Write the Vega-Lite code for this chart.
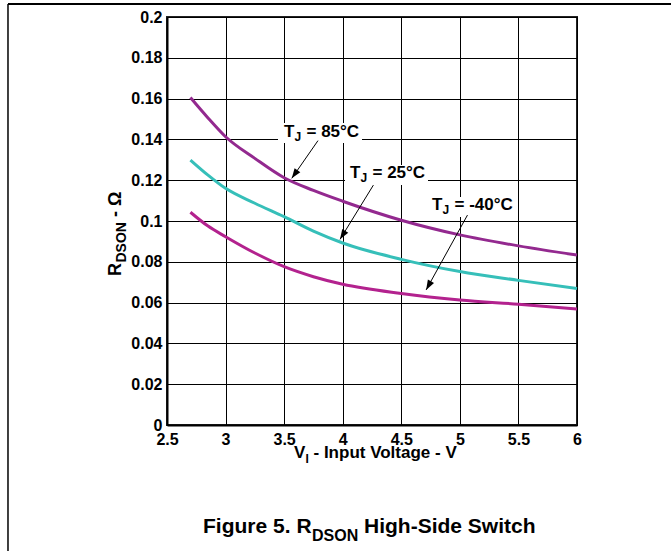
{
  "$schema": "https://vega.github.io/schema/vega-lite/v6.json",
  "width": 410,
  "height": 408,
  "autosize": "none",
  "padding": {"left": 167, "top": 17, "right": 94, "bottom": 126},
  "background": "white",
  "config": {
    "view": {"stroke": "#222", "strokeWidth": 2},
    "axis": {
      "grid": true, "gridColor": "#000", "gridOpacity": 1, "gridWidth": 1,
      "domainColor": "#000", "domainWidth": 2, "ticks": false, "tickSize": 0,
      "labelFont": "Liberation Sans", "labelFontWeight": "bold", "labelFontSize": 16,
      "labelColor": "#000", "title": null
    },
    "text": {"font": "Liberation Sans", "fontWeight": "bold", "color": "#000"}
  },
  "data": {"values": [{}]},
  "layer": [
    {
      "mark": {"type": "rule", "stroke": "#000", "strokeWidth": 2},
      "encoding": {
        "x": {"datum": 1.1426, "type": "quantitative"},
        "x2": {"datum": 7.5},
        "y": {"datum": 0.20637, "type": "quantitative"}
      }
    },
    {
      "mark": {"type": "rule", "stroke": "#000", "strokeWidth": 1.5},
      "encoding": {
        "x": {"datum": 1.1426, "type": "quantitative"},
        "y": {"datum": 0.20637, "type": "quantitative"},
        "y2": {"datum": -0.09}
      }
    },
    {
      "data": {"values": [
        {"v": 2.7, "r": 0.1605, "t": "85°C"}, {"v": 2.85, "r": 0.1505, "t": "85°C"}, {"v": 3.0, "r": 0.1413, "t": "85°C"},
        {"v": 3.25, "r": 0.1307, "t": "85°C"}, {"v": 3.5, "r": 0.1212, "t": "85°C"}, {"v": 3.75, "r": 0.1150, "t": "85°C"},
        {"v": 4.0, "r": 0.1097, "t": "85°C"}, {"v": 4.5, "r": 0.1004, "t": "85°C"}, {"v": 5.0, "r": 0.0932, "t": "85°C"},
        {"v": 5.5, "r": 0.0878, "t": "85°C"}, {"v": 6.0, "r": 0.0833, "t": "85°C"},
        {"v": 2.7, "r": 0.1299, "t": "25°C"}, {"v": 2.85, "r": 0.1225, "t": "25°C"}, {"v": 3.0, "r": 0.1160, "t": "25°C"},
        {"v": 3.25, "r": 0.1087, "t": "25°C"}, {"v": 3.5, "r": 0.1021, "t": "25°C"}, {"v": 3.75, "r": 0.0950, "t": "25°C"},
        {"v": 4.0, "r": 0.0892, "t": "25°C"}, {"v": 4.5, "r": 0.0812, "t": "25°C"}, {"v": 5.0, "r": 0.0752, "t": "25°C"},
        {"v": 5.5, "r": 0.0709, "t": "25°C"}, {"v": 6.0, "r": 0.0669, "t": "25°C"},
        {"v": 2.7, "r": 0.1043, "t": "-40°C"}, {"v": 2.85, "r": 0.0975, "t": "-40°C"}, {"v": 3.0, "r": 0.0923, "t": "-40°C"},
        {"v": 3.25, "r": 0.0843, "t": "-40°C"}, {"v": 3.5, "r": 0.0776, "t": "-40°C"}, {"v": 3.75, "r": 0.0727, "t": "-40°C"},
        {"v": 4.0, "r": 0.0690, "t": "-40°C"}, {"v": 4.5, "r": 0.0645, "t": "-40°C"}, {"v": 5.0, "r": 0.0613, "t": "-40°C"},
        {"v": 5.5, "r": 0.0592, "t": "-40°C"}, {"v": 6.0, "r": 0.0569, "t": "-40°C"}
      ]},
      "mark": {"type": "line", "strokeWidth": 3, "interpolate": "monotone"},
      "encoding": {
        "x": {"field": "v", "type": "quantitative",
              "scale": {"domain": [2.5, 6], "nice": false, "zero": false},
              "axis": {"values": [2.5, 3, 3.5, 4, 4.5, 5, 5.5, 6], "format": "~g", "labelPadding": 6, "labelFlush": false}},
        "y": {"field": "r", "type": "quantitative",
              "scale": {"domain": [0, 0.2], "nice": false, "zero": false},
              "axis": {"values": [0, 0.02, 0.04, 0.06, 0.08, 0.1, 0.12, 0.14, 0.16, 0.18, 0.2], "format": "~g", "labelPadding": 5, "labelFlush": false}},
        "color": {"field": "t", "type": "nominal",
                  "scale": {"domain": ["85°C", "25°C", "-40°C"], "range": ["#93298F", "#36BFB9", "#B3228E"]},
                  "legend": null}
      }
    },
    {
      "mark": {"type": "rect", "fill": "white"},
      "encoding": {"x": {"datum": 3.4476, "type": "quantitative"}, "x2": {"datum": 4.1647},
                   "y": {"datum": 0.148, "type": "quantitative"}, "y2": {"datum": 0.1382}}
    },
    {
      "mark": {"type": "rect", "fill": "white"},
      "encoding": {"x": {"datum": 4.0196, "type": "quantitative"}, "x2": {"datum": 4.728},
                   "y": {"datum": 0.1275, "type": "quantitative"}, "y2": {"datum": 0.1176}}
    },
    {
      "mark": {"type": "rect", "fill": "white"},
      "encoding": {"x": {"datum": 4.7196, "type": "quantitative"}, "x2": {"datum": 5.4794},
                   "y": {"datum": 0.1118, "type": "quantitative"}, "y2": {"datum": 0.102}}
    },
    {
      "mark": {"type": "text", "text": "T", "align": "left", "baseline": "alphabetic", "fontSize": 17},
      "encoding": {"x": {"datum": 3.4988, "type": "quantitative"}, "y": {"datum": 0.1413, "type": "quantitative"}}
    },
    {
      "mark": {"type": "text", "text": "J", "align": "left", "baseline": "alphabetic", "fontSize": 12, "dx": 10.5, "dy": 4},
      "encoding": {"x": {"datum": 3.4988, "type": "quantitative"}, "y": {"datum": 0.1413, "type": "quantitative"}}
    },
    {
      "mark": {"type": "text", "text": "= 85°C", "align": "left", "baseline": "alphabetic", "fontSize": 17, "dx": 22.5},
      "encoding": {"x": {"datum": 3.4988, "type": "quantitative"}, "y": {"datum": 0.1413, "type": "quantitative"}}
    },
    {
      "mark": {"type": "text", "text": "T", "align": "left", "baseline": "alphabetic", "fontSize": 17},
      "encoding": {"x": {"datum": 4.0623, "type": "quantitative"}, "y": {"datum": 0.1209, "type": "quantitative"}}
    },
    {
      "mark": {"type": "text", "text": "J", "align": "left", "baseline": "alphabetic", "fontSize": 12, "dx": 10.5, "dy": 4},
      "encoding": {"x": {"datum": 4.0623, "type": "quantitative"}, "y": {"datum": 0.1209, "type": "quantitative"}}
    },
    {
      "mark": {"type": "text", "text": "= 25°C", "align": "left", "baseline": "alphabetic", "fontSize": 17, "dx": 22.5},
      "encoding": {"x": {"datum": 4.0623, "type": "quantitative"}, "y": {"datum": 0.1209, "type": "quantitative"}}
    },
    {
      "mark": {"type": "text", "text": "T", "align": "left", "baseline": "alphabetic", "fontSize": 17},
      "encoding": {"x": {"datum": 4.762, "type": "quantitative"}, "y": {"datum": 0.1054, "type": "quantitative"}}
    },
    {
      "mark": {"type": "text", "text": "J", "align": "left", "baseline": "alphabetic", "fontSize": 12, "dx": 10.5, "dy": 4},
      "encoding": {"x": {"datum": 4.762, "type": "quantitative"}, "y": {"datum": 0.1054, "type": "quantitative"}}
    },
    {
      "mark": {"type": "text", "text": "= -40°C", "align": "left", "baseline": "alphabetic", "fontSize": 17, "dx": 22.5},
      "encoding": {"x": {"datum": 4.762, "type": "quantitative"}, "y": {"datum": 0.1054, "type": "quantitative"}}
    },
    {
      "mark": {"type": "rule", "stroke": "#000", "strokeWidth": 1},
      "encoding": {"x": {"datum": 3.789, "type": "quantitative"}, "x2": {"datum": 3.565},
                   "y": {"datum": 0.1394, "type": "quantitative"}, "y2": {"datum": 0.1209}}
    },
    {
      "mark": {"type": "rule", "stroke": "#000", "strokeWidth": 1},
      "encoding": {"x": {"datum": 4.262, "type": "quantitative"}, "x2": {"datum": 3.977},
                   "y": {"datum": 0.1176, "type": "quantitative"}, "y2": {"datum": 0.091}}
    },
    {
      "mark": {"type": "rule", "stroke": "#000", "strokeWidth": 1},
      "encoding": {"x": {"datum": 5.065, "type": "quantitative"}, "x2": {"datum": 4.712},
                   "y": {"datum": 0.1029, "type": "quantitative"}, "y2": {"datum": 0.0662}}
    },
    {
      "mark": {"type": "point", "shape": "M0,0L-0.7,2L0.7,2Z", "size": 100, "filled": true, "color": "#000", "opacity": 1, "angle": 214.8},
      "encoding": {"x": {"datum": 3.565, "type": "quantitative"}, "y": {"datum": 0.1209, "type": "quantitative"}}
    },
    {
      "mark": {"type": "point", "shape": "M0,0L-0.7,2L0.7,2Z", "size": 100, "filled": true, "color": "#000", "opacity": 1, "angle": 211.6},
      "encoding": {"x": {"datum": 3.977, "type": "quantitative"}, "y": {"datum": 0.091, "type": "quantitative"}}
    },
    {
      "mark": {"type": "point", "shape": "M0,0L-0.7,2L0.7,2Z", "size": 100, "filled": true, "color": "#000", "opacity": 1, "angle": 208.9},
      "encoding": {"x": {"datum": 4.712, "type": "quantitative"}, "y": {"datum": 0.0662, "type": "quantitative"}}
    },
    {
      "mark": {"type": "text", "text": "V", "align": "left", "baseline": "alphabetic", "fontSize": 17, "dx": -78, "dy": 33},
      "encoding": {"x": {"datum": 4.25, "type": "quantitative"}, "y": {"datum": 0, "type": "quantitative"}}
    },
    {
      "mark": {"type": "text", "text": "I", "align": "left", "baseline": "alphabetic", "fontSize": 12, "dx": -66.5, "dy": 38},
      "encoding": {"x": {"datum": 4.25, "type": "quantitative"}, "y": {"datum": 0, "type": "quantitative"}}
    },
    {
      "mark": {"type": "text", "text": "- Input Voltage - V", "align": "left", "baseline": "alphabetic", "fontSize": 17, "dx": -58.5, "dy": 33},
      "encoding": {"x": {"datum": 4.25, "type": "quantitative"}, "y": {"datum": 0, "type": "quantitative"}}
    },
    {
      "mark": {"type": "text", "text": "R", "align": "left", "baseline": "alphabetic", "fontSize": 18, "angle": 270, "dx": -55, "dy": -46},
      "encoding": {"x": {"datum": 2.5, "type": "quantitative"}, "y": {"datum": 0.1, "type": "quantitative"}}
    },
    {
      "mark": {"type": "text", "text": "DSON", "align": "left", "baseline": "alphabetic", "fontSize": 14, "angle": 270, "dx": -41.5, "dy": -41},
      "encoding": {"x": {"datum": 2.5, "type": "quantitative"}, "y": {"datum": 0.1, "type": "quantitative"}}
    },
    {
      "mark": {"type": "text", "text": "- Ω", "align": "left", "baseline": "alphabetic", "fontSize": 18, "angle": 270, "dx": 4, "dy": -46},
      "encoding": {"x": {"datum": 2.5, "type": "quantitative"}, "y": {"datum": 0.1, "type": "quantitative"}}
    },
    {
      "mark": {"type": "text", "text": "Figure 5.", "align": "left", "baseline": "alphabetic", "fontSize": 21, "dx": -169, "dy": 108},
      "encoding": {"x": {"datum": 4.25, "type": "quantitative"}, "y": {"datum": 0, "type": "quantitative"}}
    },
    {
      "mark": {"type": "text", "text": "R", "align": "left", "baseline": "alphabetic", "fontSize": 21, "dx": -75.5, "dy": 108},
      "encoding": {"x": {"datum": 4.25, "type": "quantitative"}, "y": {"datum": 0, "type": "quantitative"}}
    },
    {
      "mark": {"type": "text", "text": "DSON", "align": "left", "baseline": "alphabetic", "fontSize": 16, "dx": -60, "dy": 116},
      "encoding": {"x": {"datum": 4.25, "type": "quantitative"}, "y": {"datum": 0, "type": "quantitative"}}
    },
    {
      "mark": {"type": "text", "text": "High-Side Switch", "align": "left", "baseline": "alphabetic", "fontSize": 21, "dx": -8, "dy": 108},
      "encoding": {"x": {"datum": 4.25, "type": "quantitative"}, "y": {"datum": 0, "type": "quantitative"}}
    }
  ]
}
